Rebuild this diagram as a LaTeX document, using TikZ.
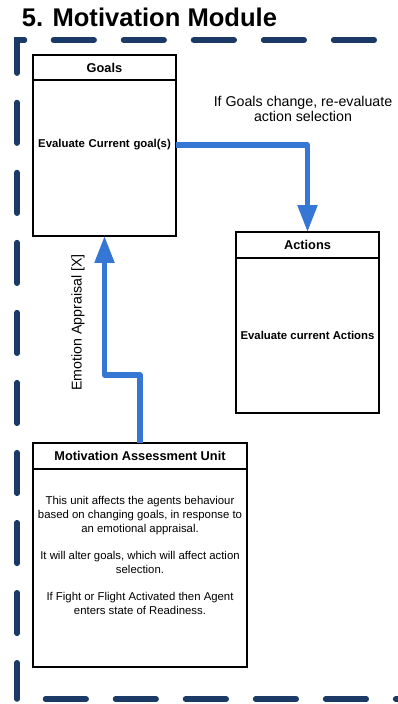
\documentclass[tikz,border=0pt]{standalone}
\usepackage{fontspec}
\setmainfont{Liberation Sans}
\usetikzlibrary{arrows.meta}
\definecolor{framenavy}{RGB}{27,58,102}
\definecolor{flowblue}{RGB}{54,118,212}
\begin{document}
\begin{tikzpicture}[x=0.704pt,y=-0.704pt,
  box/.style={draw=black, line width=1.06pt, rectangle, inner sep=0pt, outer sep=0pt},
  headtext/.style={font=\fontsize{9}{11}\selectfont\bfseries},
  bodytext/.style={font=\fontsize{8}{9.86}\selectfont, align=center, inner sep=0pt},
  labeltext/.style={font=\fontsize{10}{11}\selectfont, align=center, inner sep=0pt},
  flow/.style={draw=flowblue, line width=3.6pt, line join=round,
    -{Triangle[width=13.4pt,length=19pt]}},
  frame/.style={draw=framenavy, line width=3.9pt, line cap=round,
    dash pattern=on 28.6pt off 20.7pt},
]
\useasboundingbox (0,0) rectangle (398,704);

% title
\node[anchor=base west, inner sep=0pt, font=\fontsize{18}{22}\selectfont\bfseries]
  (title) at (21.5,27) {5. Motivation Module};

% dashed module frame (open to the right)
\draw[frame] (24.5,40) -- (17,40) -- (17,699);
\draw[frame] (53.5,40) -- (430,40);
\draw[frame] (45.5,699) -- (430,699);

% Goals
\node[box, headtext, minimum width=100.7pt, minimum height=17.6pt]
  (goalshead) at (104.5,67.5) {Goals};
\node[box, minimum width=100.7pt, minimum height=109.8pt]
  (goalsbody) at (104.5,158) {};
\node[font=\fontsize{8}{9.86}\selectfont\bfseries, align=center, inner sep=0pt,
  text width=100.7pt] (goaltext) at (104.5,145) {Evaluate Current goal(s)};

% Actions
\node[box, headtext, minimum width=100.7pt, minimum height=18.3pt]
  (actionshead) at (307.5,245) {Actions};
\node[box, minimum width=100.7pt, minimum height=109.1pt]
  (actionsbody) at (307.5,335.5) {};
\node[font=\fontsize{8}{9.86}\selectfont\bfseries, inner sep=0pt]
  (actiontext) at (307.5,335) {Evaluate current Actions};

% Motivation Assessment Unit
\node[box, headtext, minimum width=150.7pt, minimum height=18.3pt]
  (mauhead) at (140,456) {Motivation Assessment Unit};
\node[box, minimum width=150.7pt, minimum height=139.4pt]
  (maubody) at (140,568) {};
\node[bodytext, anchor=north] (mautext) at (140,495.7)
  {This unit affects the agents behaviour\\
   based on changing goals, in response to\\
   an emotional appraisal.\\[9.2pt]
   It will alter goals, which will affect action\\
   selection.\\[9.2pt]
   If Fight or Flight Activated then Agent\\
   enters state of Readiness.};

% connectors
\draw[flow] (goaltext.east) -| (actionshead.north);
\draw[flow] (mauhead.north) -- ++(0,-68) -| (goalsbody.south);

% connector labels
\node[labeltext, anchor=north] (changelabel) at (303,95.5)
  {If Goals change, re-evaluate\\action selection};
\node[labeltext, rotate=90] (appraisal) at (78,322.5) {Emotion Appraisal [X]};
\end{tikzpicture}
\end{document}
